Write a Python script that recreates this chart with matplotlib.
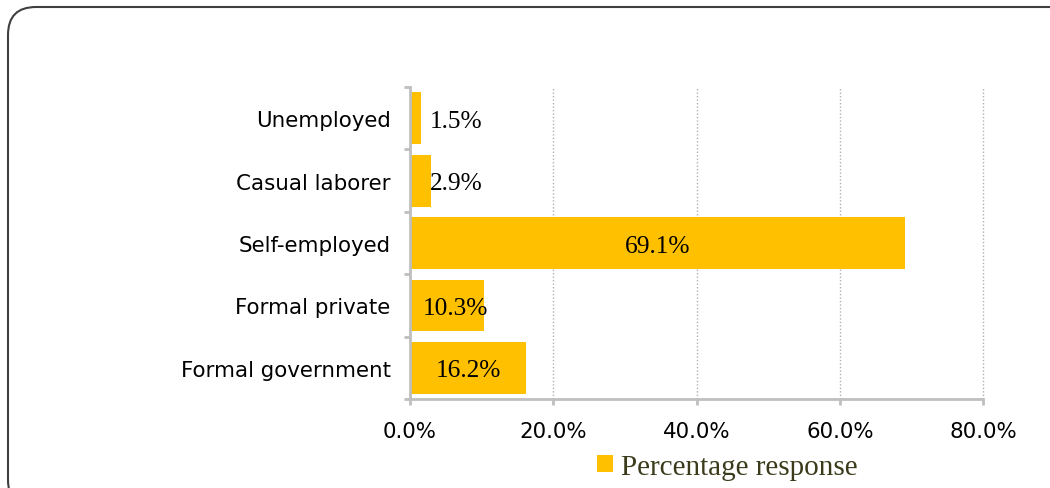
import matplotlib
matplotlib.use("Agg")
import matplotlib.pyplot as plt
from matplotlib.patches import FancyBboxPatch, Patch
from matplotlib.transforms import IdentityTransform
from matplotlib.ticker import FuncFormatter

# Occupation categories (top to bottom) and share of respondents (%)
categories = ["Unemployed", "Casual laborer", "Self-employed", "Formal private", "Formal government"]
values = [1.5, 2.9, 69.1, 10.3, 16.2]
series_name = "Percentage response"
x_ticks = [0, 20, 40, 60, 80]

bar_color = "#FFC000"
axis_gray = "#BFBFBF"

fig = plt.figure(figsize=(10.5, 4.89), dpi=100)
ax = fig.add_axes([0.3905, 0.182, 0.5457, 0.638])

# bars drawn bottom-up so the first category sits on top
ypos = list(range(len(categories)))[::-1]
ax.barh(ypos, values, height=0.83, color=bar_color, zorder=2)

ax.set_xlim(0, 80)
ax.set_ylim(-0.5, len(categories) - 0.5)
ax.set_xticks(x_ticks)
ax.xaxis.set_major_formatter(FuncFormatter(lambda v, p: f"{v:.1f}%"))
ax.set_yticks(ypos)
ax.set_yticklabels(categories)
ax.set_yticks([y - 0.5 for y in range(len(categories) + 1)], minor=True)

ax.tick_params(axis="y", which="major", length=0, pad=14, labelsize=15.4, labelcolor="black")
ax.tick_params(axis="y", which="minor", length=4.5, width=2, color=axis_gray, direction="out")
ax.tick_params(axis="x", length=4.5, width=2, color=axis_gray, pad=11, labelsize=15.4, labelcolor="black")
for lab in ax.get_xticklabels() + ax.get_yticklabels():
    lab.set_family("DejaVu Sans")

# dotted vertical gridlines (not clipped, so the last one at the edge shows fully)
for gx in x_ticks[1:]:
    ax.axvline(gx, color="#B0B0B0", linestyle=(0, (1, 1.5)), linewidth=1.0,
               zorder=0, clip_on=False)
for s in ["top", "right"]:
    ax.spines[s].set_visible(False)
for s in ["left", "bottom"]:
    ax.spines[s].set_color(axis_gray)
    ax.spines[s].set_linewidth(2)
    ax.spines[s].set_zorder(3)

# value labels
for y, v in zip(ypos, values):
    xc = max(v / 2, 6.4)
    ax.text(xc, y, f"{v:.1f}%", ha="center", va="center_baseline",
            fontsize=18.3, family="Liberation Serif", color="black", zorder=4)

# legend below the axes
handle = Patch(facecolor=bar_color, edgecolor="none")
fig.legend([handle], [series_name], loc="center", bbox_to_anchor=(0.693, 0.043),
           frameon=False, handlelength=0.52, handleheight=0.52, handletextpad=0.3,
           prop={"family": "Liberation Serif", "size": 21}, labelcolor="#3b3b1c")

# rounded chart border
border = FancyBboxPatch((8, -20), 1075, 501, boxstyle="round,pad=0,rounding_size=28",
                        transform=IdentityTransform(), facecolor="none",
                        edgecolor="#404040", linewidth=1.5, clip_on=False)
fig.patches.append(border)

fig.savefig("out.png", dpi=100)
